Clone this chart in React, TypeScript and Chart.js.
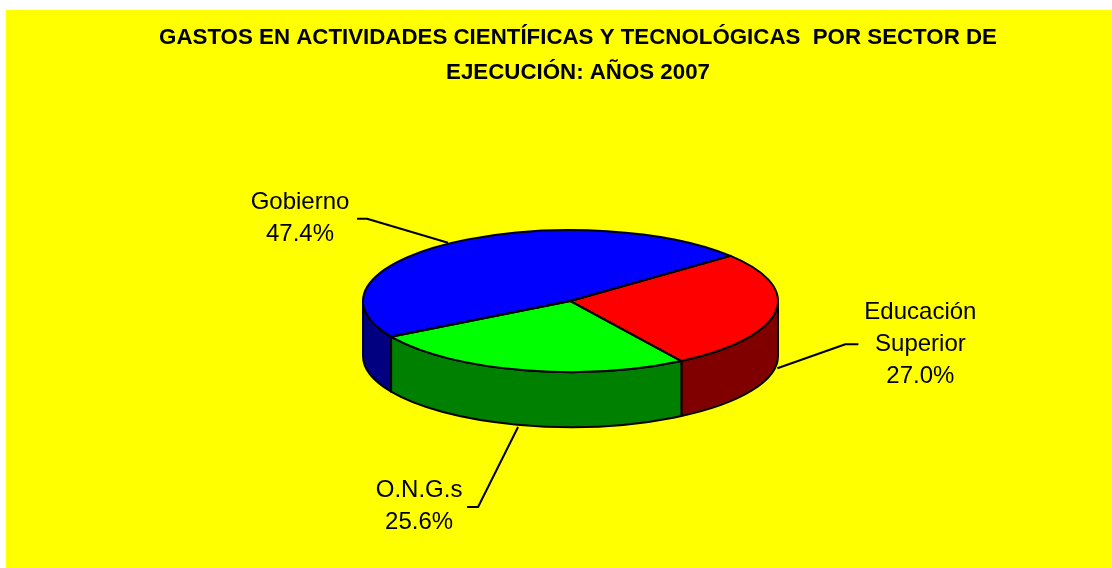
import React, { useEffect, useRef } from "react";
import { Chart, registerables } from "chart.js";

Chart.register(...registerables);

const titleLines = [
  "GASTOS EN ACTIVIDADES CIENTÍFICAS Y TECNOLÓGICAS  POR SECTOR DE",
  "EJECUCIÓN: AÑOS 2007",
];
const categories = ["Educación Superior", "O.N.G.s", "Gobierno"];
const labelLines = [["Educación", "Superior"], ["O.N.G.s"], ["Gobierno"]];
const shares = [27.0, 25.6, 47.4];
const topColors = ["#ff0000", "#00ff00", "#0000ff"];
const sideColors = ["#800000", "#008000", "#000080"];

const FONT = "'Liberation Sans', Arial, sans-serif";
const SQUASH = 71 / 207.5;
const DEPTH = 55;
const SHIFT_X = -7.5;
// leader style per slice: start, elbow and line end relative to the anchor, label centre relative to the anchor
const leaders = [
  { start: [2, 1], elbow: [70, -23], end: [83, -23], text: [145, -55], onSide: true },
  { start: [-3, 2], elbow: [-43, 82], end: [-54, 82], text: [-102, 65], onSide: true },
  { start: [-4, 0], elbow: [-85, -24], end: [-95, -24], text: [-152, -40], onSide: false },
];

const pie3d = {
  id: "pie3d",
  beforeDatasetsDraw(chart: any) {
    const ctx = chart.ctx;
    const arcs = chart.getDatasetMeta(0).data;
    const { x, y, outerRadius: R } = arcs[0];
    const cx = x + SHIFT_X;
    ctx.save();
    ctx.lineWidth = 2;
    ctx.strokeStyle = "#000";
    ctx.lineJoin = "round";
    arcs.forEach((arc: any, i: number) => {
      for (const k of [-1, 0, 1]) {
        const a = Math.max(arc.startAngle + k * 2 * Math.PI, 0);
        const b = Math.min(arc.endAngle + k * 2 * Math.PI, Math.PI);
        if (a >= b) continue;
        ctx.beginPath();
        ctx.ellipse(cx, y, R, R * SQUASH, 0, a, b);
        ctx.ellipse(cx, y + DEPTH, R, R * SQUASH, 0, b, a, true);
        ctx.closePath();
        ctx.fillStyle = sideColors[i];
        ctx.fill();
        ctx.stroke();
      }
    });
    ctx.restore();
    ctx.save();
    ctx.translate(cx, y);
    ctx.scale(1, SQUASH);
    ctx.translate(-x, -y);
  },
  afterDatasetsDraw(chart: any) {
    const ctx = chart.ctx;
    ctx.restore();
    const arcs = chart.getDatasetMeta(0).data;
    const { x, y, outerRadius: R } = arcs[0];
    const cx = x + SHIFT_X;
    ctx.save();
    ctx.lineWidth = 2;
    ctx.strokeStyle = "#000";
    ctx.lineJoin = "round";
    arcs.forEach((arc: any) => {
      ctx.beginPath();
      ctx.moveTo(cx, y);
      ctx.ellipse(cx, y, R, R * SQUASH, 0, arc.startAngle, arc.endAngle);
      ctx.closePath();
      ctx.stroke();
    });
    ctx.font = `24px ${FONT}`;
    ctx.fillStyle = "#000";
    ctx.textAlign = "center";
    ctx.textBaseline = "middle";
    arcs.forEach((arc: any, i: number) => {
      const mid = (arc.startAngle + arc.endAngle) / 2;
      const l = leaders[i];
      const ax = cx + R * Math.cos(mid);
      const ay = y + R * SQUASH * Math.sin(mid) + (l.onSide ? DEPTH : 0);
      ctx.lineWidth = 2;
      ctx.beginPath();
      ctx.moveTo(ax + l.start[0], ay + l.start[1]);
      ctx.lineTo(ax + l.elbow[0], ay + l.elbow[1]);
      ctx.lineTo(ax + l.end[0], ay + l.end[1]);
      ctx.stroke();
      const lines = [...labelLines[i], `${shares[i].toFixed(1)}%`];
      lines.forEach((t, n) => {
        ctx.fillText(t, ax + l.text[0], ay + l.text[1] + n * 32);
      });
    });
    ctx.restore();
  },
};

export default function App() {
  const ref = useRef<HTMLCanvasElement>(null);
  useEffect(() => {
    const chart = new Chart(ref.current!, {
      type: "pie",
      data: {
        labels: categories,
        datasets: [
          {
            data: shares,
            backgroundColor: topColors,
            borderWidth: 0,
          },
        ],
      },
      options: {
        animation: false,
        responsive: false,
        rotation: 50.5,
        layout: { padding: { left: 38, right: 0, top: 0, bottom: 59.5 } },
        plugins: {
          legend: { display: false },
          tooltip: { enabled: false },
          title: {
            display: true,
            text: titleLines,
            color: "#000",
            font: { family: FONT, size: 22.3, weight: "bold", lineHeight: 1.57 },
            padding: { top: 10.5, bottom: 3 },
          },
        },
      },
      plugins: [pie3d],
    } as any);
    return () => chart.destroy();
  }, []);
  return (
    <div style={{ position: "fixed", left: 6, top: 10, width: 1106, height: 558 }}>
      <canvas
        ref={ref}
        width={1106}
        height={558}
        style={{ display: "block", background: "#ffff00" }}
      />
    </div>
  );
}
